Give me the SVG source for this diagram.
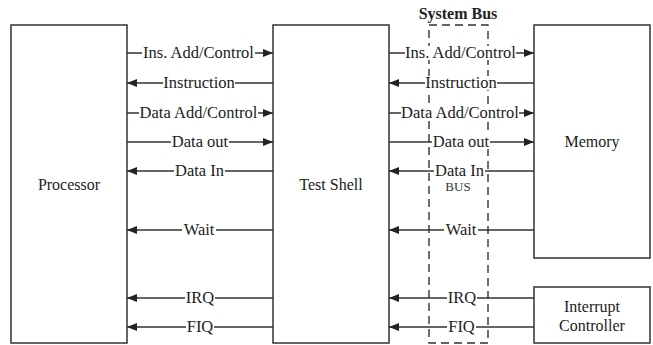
<svg xmlns="http://www.w3.org/2000/svg" width="653" height="345" viewBox="0 0 653 345">
<style>
.box{fill:#fff;stroke:#333;stroke-width:1.5}
.ln{stroke:#333;stroke-width:1.6;fill:none}
.lbl{font-size:16px;fill:#222;text-anchor:middle}
.sig{font-size:16.5px;fill:#222;text-anchor:middle}
.bg{fill:#fff}
.bus{fill:none;stroke:#333;stroke-width:1.4;stroke-dasharray:8 5}
</style>
<defs>
<marker id="ah" viewBox="0 0 10 8" refX="10" refY="4" markerWidth="10" markerHeight="8" markerUnits="userSpaceOnUse" orient="auto">
<path d="M0,0 L10,4 L0,8 Z" fill="#222"/>
</marker>
</defs>
<rect width="653" height="345" fill="#fff"/>
<g font-family="Liberation Serif, serif">
<g id="processor"><rect class="box" x="11" y="25" width="116" height="318"/><text class="lbl" x="69" y="190">Processor</text></g>
<g id="test-shell"><rect class="box" x="273" y="25" width="116" height="318"/><text class="lbl" x="331" y="190">Test Shell</text></g>
<g id="memory"><rect class="box" x="534" y="25" width="116" height="233"/><text class="lbl" x="592" y="147">Memory</text></g>
<g id="interrupt-controller"><rect class="box" x="534" y="287" width="116" height="56"/><text class="lbl" x="592" y="312">Interrupt</text><text class="lbl" x="592" y="331">Controller</text></g>
<g id="system-bus"><rect class="bus" x="429" y="25" width="59" height="318"/><text x="458" y="19" font-size="16" font-weight="bold" text-anchor="middle" fill="#222">System Bus</text></g>
<g id="connectors">
<line class="ln" x1="127" y1="53" x2="273" y2="53" marker-end="url(#ah)"/>
<line class="ln" x1="273" y1="83" x2="127" y2="83" marker-end="url(#ah)"/>
<line class="ln" x1="127" y1="113" x2="273" y2="113" marker-end="url(#ah)"/>
<line class="ln" x1="127" y1="142" x2="273" y2="142" marker-end="url(#ah)"/>
<line class="ln" x1="273" y1="171" x2="127" y2="171" marker-end="url(#ah)"/>
<line class="ln" x1="273" y1="230" x2="127" y2="230" marker-end="url(#ah)"/>
<line class="ln" x1="273" y1="298" x2="127" y2="298" marker-end="url(#ah)"/>
<line class="ln" x1="273" y1="327" x2="127" y2="327" marker-end="url(#ah)"/>
<line class="ln" x1="389" y1="53" x2="534" y2="53" marker-end="url(#ah)"/>
<line class="ln" x1="534" y1="83" x2="389" y2="83" marker-end="url(#ah)"/>
<line class="ln" x1="389" y1="113" x2="534" y2="113" marker-end="url(#ah)"/>
<line class="ln" x1="389" y1="142" x2="534" y2="142" marker-end="url(#ah)"/>
<line class="ln" x1="534" y1="171" x2="389" y2="171" marker-end="url(#ah)"/>
<line class="ln" x1="534" y1="230" x2="389" y2="230" marker-end="url(#ah)"/>
<line class="ln" x1="534" y1="298" x2="389" y2="298" marker-end="url(#ah)"/>
<line class="ln" x1="534" y1="327" x2="389" y2="327" marker-end="url(#ah)"/>
<rect class="bg" x="142" y="46" width="113" height="14"/>
<rect class="bg" x="163" y="76" width="72" height="14"/>
<rect class="bg" x="139" y="106" width="119" height="14"/>
<rect class="bg" x="171" y="135" width="58" height="14"/>
<rect class="bg" x="174" y="164" width="51" height="14"/>
<rect class="bg" x="182" y="223" width="34" height="14"/>
<rect class="bg" x="185" y="291" width="30" height="14"/>
<rect class="bg" x="186" y="320" width="28" height="14"/>
<rect class="bg" x="405" y="46" width="111" height="14"/>
<rect class="bg" x="425" y="76" width="72" height="14"/>
<rect class="bg" x="401" y="106" width="118" height="14"/>
<rect class="bg" x="432" y="135" width="58" height="14"/>
<rect class="bg" x="434" y="164" width="51" height="14"/>
<rect class="bg" x="444" y="223" width="34" height="14"/>
<rect class="bg" x="447" y="291" width="30" height="14"/>
<rect class="bg" x="447" y="320" width="29" height="14"/>
<text class="sig" x="198.5" y="58">Ins. Add/Control</text>
<text class="sig" x="199" y="88">Instruction</text>
<text class="sig" x="198.5" y="118">Data Add/Control</text>
<text class="sig" x="200" y="147">Data out</text>
<text class="sig" x="199.5" y="176">Data In</text>
<text class="sig" x="199" y="235">Wait</text>
<text class="sig" x="200" y="303">IRQ</text>
<text class="sig" x="200" y="332">FIQ</text>
<text class="sig" x="460.5" y="58">Ins. Add/Control</text>
<text class="sig" x="461" y="88">Instruction</text>
<text class="sig" x="460" y="118">Data Add/Control</text>
<text class="sig" x="461" y="147">Data out</text>
<text class="sig" x="459.5" y="176">Data In</text>
<text class="sig" x="461" y="235">Wait</text>
<text class="sig" x="462" y="303">IRQ</text>
<text class="sig" x="461.5" y="332">FIQ</text>
</g>
<text x="458" y="191" font-size="13" text-anchor="middle" fill="#333">BUS</text>
</g>
</svg>
